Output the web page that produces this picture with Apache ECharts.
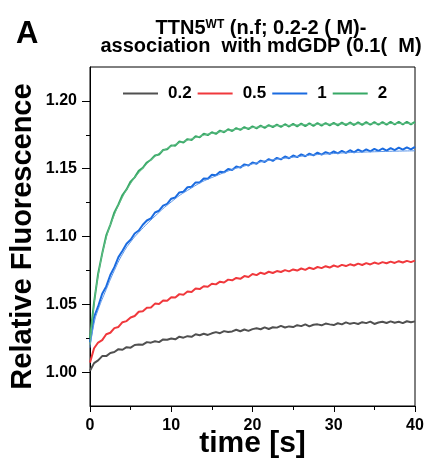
<!DOCTYPE html>
<html>
<head>
<meta charset="utf-8">
<script src="https://cdn.jsdelivr.net/npm/echarts@6/dist/echarts.min.js"></script>
<style>html,body{margin:0;padding:0;background:#fff;}#c{width:429px;height:461px;}</style>
</head>
<body>
<div id="c"></div>
<script>
var time = [0,0.5,1,1.5,2,2.5,3,3.5,4,4.5,5,5.5,6,6.5,7,7.5,8,8.5,9,9.5,10,10.5,11,11.5,12,12.5,13,13.5,14,14.5,15,15.5,16,16.5,17,17.5,18,18.5,19,19.5,20,20.5,21,21.5,22,22.5,23,23.5,24,24.5,25,25.5,26,26.5,27,27.5,28,28.5,29,29.5,30,30.5,31,31.5,32,32.5,33,33.5,34,34.5,35,35.5,36,36.5,37,37.5,38,38.5,39,39.5,40];
var c02 = [1.0010,1.0066,1.0086,1.0118,1.0118,1.0141,1.0148,1.0169,1.0165,1.0184,1.0180,1.0200,1.0203,1.0202,1.0221,1.0217,1.0227,1.0221,1.0241,1.0239,1.0248,1.0242,1.0261,1.0254,1.0265,1.0260,1.0279,1.0272,1.0283,1.0274,1.0286,1.0295,1.0287,1.0302,1.0295,1.0300,1.0312,1.0301,1.0314,1.0304,1.0317,1.0323,1.0316,1.0330,1.0318,1.0331,1.0328,1.0341,1.0329,1.0337,1.0332,1.0346,1.0339,1.0352,1.0337,1.0349,1.0352,1.0345,1.0358,1.0352,1.0347,1.0360,1.0352,1.0367,1.0356,1.0363,1.0355,1.0368,1.0361,1.0372,1.0355,1.0366,1.0371,1.0362,1.0374,1.0364,1.0371,1.0361,1.0375,1.0368,1.0374];
var c05 = [1.0070,1.0176,1.0218,1.0236,1.0279,1.0290,1.0324,1.0333,1.0368,1.0376,1.0403,1.0414,1.0445,1.0449,1.0474,1.0477,1.0505,1.0503,1.0528,1.0526,1.0552,1.0550,1.0575,1.0571,1.0594,1.0591,1.0616,1.0612,1.0633,1.0629,1.0652,1.0647,1.0667,1.0661,1.0682,1.0677,1.0694,1.0688,1.0708,1.0701,1.0724,1.0715,1.0733,1.0724,1.0740,1.0731,1.0745,1.0738,1.0752,1.0743,1.0757,1.0749,1.0764,1.0754,1.0770,1.0760,1.0775,1.0767,1.0781,1.0771,1.0786,1.0776,1.0791,1.0782,1.0795,1.0786,1.0800,1.0790,1.0804,1.0794,1.0808,1.0798,1.0811,1.0803,1.0815,1.0805,1.0818,1.0808,1.0820,1.0811,1.0822];
var c1 = [1.0220,1.0405,1.0484,1.0578,1.0632,1.0716,1.0774,1.0848,1.0895,1.0947,1.0976,1.1022,1.1044,1.1087,1.1118,1.1134,1.1177,1.1190,1.1228,1.1241,1.1279,1.1288,1.1325,1.1330,1.1363,1.1367,1.1399,1.1398,1.1428,1.1426,1.1455,1.1451,1.1478,1.1473,1.1498,1.1491,1.1516,1.1508,1.1532,1.1523,1.1546,1.1537,1.1560,1.1549,1.1571,1.1558,1.1580,1.1569,1.1590,1.1577,1.1597,1.1585,1.1606,1.1592,1.1611,1.1598,1.1618,1.1604,1.1622,1.1610,1.1627,1.1613,1.1632,1.1617,1.1636,1.1621,1.1640,1.1625,1.1643,1.1628,1.1646,1.1631,1.1649,1.1634,1.1652,1.1637,1.1655,1.1640,1.1658,1.1642,1.1661];
var c2 = [1.0250,1.0515,1.0726,1.0874,1.1008,1.1086,1.1178,1.1236,1.1306,1.1347,1.1405,1.1436,1.1484,1.1506,1.1546,1.1566,1.1598,1.1604,1.1638,1.1643,1.1672,1.1670,1.1700,1.1693,1.1718,1.1712,1.1740,1.1731,1.1758,1.1748,1.1769,1.1757,1.1781,1.1769,1.1791,1.1778,1.1799,1.1786,1.1806,1.1792,1.1812,1.1798,1.1817,1.1801,1.1821,1.1806,1.1825,1.1808,1.1828,1.1811,1.1830,1.1812,1.1833,1.1814,1.1834,1.1816,1.1836,1.1818,1.1837,1.1819,1.1838,1.1820,1.1840,1.1821,1.1841,1.1822,1.1842,1.1823,1.1843,1.1824,1.1843,1.1824,1.1844,1.1825,1.1845,1.1826,1.1845,1.1826,1.1846,1.1827,1.1846];
var fitTimeB = [0,0.5,1,2,3,4,5,6,8,10,12,15,20,25,30,35,40];
var fit1 = [1.018,1.036,1.046,1.061,1.075,1.087,1.096,1.103,1.115,1.1255,1.134,1.1435,1.1535,1.1585,1.1612,1.1625,1.1632];
var fitTimeG = [0,0.5,1,2,3,4,5,6,8,10,12,15,20,25,30,40];
var fit2 = [1.020,1.050,1.071,1.099,1.116,1.129,1.139,1.147,1.159,1.1665,1.171,1.176,1.1803,1.1821,1.1829,1.1834];
var yMajor = [1.00,1.05,1.10,1.15,1.20];
var yMinor = [1.025,1.075,1.125,1.175];
var names = ['0.2','0.5','1','2'];
var colors = ['#505050','#f0383c','#1a6be0','#36a865'];

function pairs(xs, ys){ return xs.map(function(x,i){ return [x, ys[i]]; }); }
var F = 'Arial, "Liberation Sans", sans-serif';
var chart = echarts.init(document.getElementById('c'));
var dataSets = [c02, c05, c1, c2];
var series = dataSets.map(function(d,i){
  return {name: names[i], type:'line', data: pairs(time, d), symbol:'none', showSymbol:false,
    lineStyle:{color: colors[i], width:2}, itemStyle:{color: colors[i]}, xAxisIndex:0, yAxisIndex:0, z:2};
});
series.push({name:'fit1', type:'line', data: pairs(fitTimeB, fit1), smooth:true, symbol:'none',
  lineStyle:{color:'#5a95ea', width:1}, yAxisIndex:0, z:3});
series.push({name:'fit2', type:'line', data: pairs(fitTimeG, fit2), smooth:true, symbol:'none',
  lineStyle:{color:'#62bd88', width:1}, yAxisIndex:0, z:3});

chart.setOption({
  animation:false,
  backgroundColor:'#fff',
  title:[
    {text:'A', left:11, top:14, textStyle:{fontFamily:F, fontSize:31, fontWeight:'bold', color:'#000'}},
    {text:'{m|TTN5}{s|WT}{m| (n.f; 0.2-2 ( M)-}\n{m|association  with mdGDP (0.1(  M)}',
     left:256, top:14, textAlign:'center',
     textStyle:{rich:{
       m:{fontFamily:F, fontSize:20, fontWeight:'bold', color:'#000', lineHeight:18},
       s:{fontFamily:F, fontSize:12, fontWeight:'bold', color:'#000', lineHeight:10, verticalAlign:'top'}
     }}}
  ],
  legend:{data:names, left:118, top:80, icon:'rect', itemWidth:35, itemHeight:2, itemGap:6,
    textStyle:{fontFamily:F, fontSize:17, fontWeight:'bold', color:'#000', padding:[0,0,0,5]}},
  grid:{left:90, right:14, top:67, bottom:55, containLabel:false, outerBoundsMode:'none',
    show:true, borderColor:'#000', borderWidth:1, backgroundColor:'transparent'},
  xAxis:{type:'value', min:0, max:40, interval:10,
    name:'time [s]', nameLocation:'middle', nameGap:23, nameMoveOverlap:false,
    nameTextStyle:{fontFamily:F, fontSize:30, fontWeight:'bold', color:'#000'},
    axisLine:{show:true, lineStyle:{color:'#000', width:1}},
    axisTick:{show:true, length:6, lineStyle:{color:'#000'}},
    minorTick:{show:true, splitNumber:2, length:4, lineStyle:{color:'#000'}},
    axisLabel:{fontFamily:F, fontSize:16, fontWeight:'bold', color:'#000', margin:12},
    splitLine:{show:false}},
  yAxis:[
    {type:'value', min:0.975, max:1.225, interval:0.025,
     name:'Relative Fluorescence', nameLocation:'middle', nameGap:53, nameRotate:90, nameMoveOverlap:false,
     nameTextStyle:{fontFamily:F, fontSize:29, fontWeight:'bold', color:'#000'},
     axisLine:{show:true, lineStyle:{color:'#000', width:1}},
     axisTick:{show:true, length:8, customValues:yMajor, lineStyle:{color:'#000'}},
     axisLabel:{fontFamily:F, fontSize:16, fontWeight:'bold', color:'#000', margin:13, customValues:yMajor,
       formatter:function(v){ return v.toFixed(2); }},
     splitLine:{show:false}},
    {type:'value', min:0.975, max:1.225, interval:0.025, position:'left',
     axisLine:{show:false}, axisLabel:{show:false}, splitLine:{show:false},
     axisTick:{show:true, length:4, customValues:yMinor, lineStyle:{color:'#000'}}}
  ],
  series: series
});
</script>
</body>
</html>
